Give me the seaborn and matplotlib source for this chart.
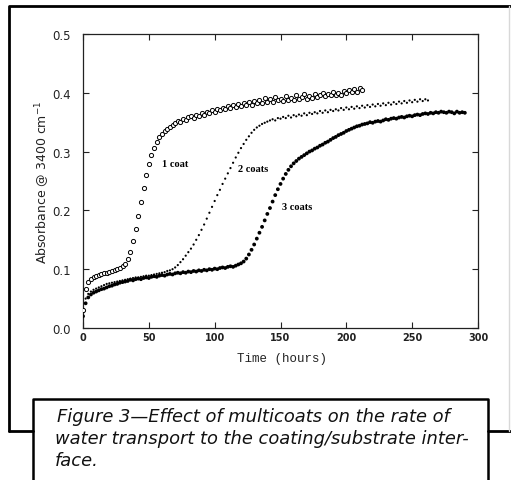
import numpy as np
import pandas as pd
import matplotlib
matplotlib.use("Agg")
import matplotlib.pyplot as plt
from matplotlib.lines import Line2D
import seaborn as sns

# ---------------- data ----------------
abs_1coat = [0.030, 0.066, 0.079, 0.084, 0.087, 0.089, 0.090, 0.092, 0.093, 0.094,
             0.096, 0.097, 0.098, 0.100, 0.102, 0.105, 0.109, 0.117, 0.130, 0.148,
             0.168, 0.190, 0.214, 0.238, 0.260, 0.279, 0.294, 0.306, 0.316, 0.324,
             0.330, 0.335, 0.339, 0.342, 0.346, 0.348, 0.352, 0.351, 0.356, 0.354,
             0.358, 0.361, 0.357, 0.363, 0.360, 0.366, 0.363, 0.368, 0.365, 0.371,
             0.368, 0.373, 0.370, 0.375, 0.372, 0.377, 0.374, 0.379, 0.376, 0.381,
             0.377, 0.383, 0.379, 0.384, 0.380, 0.386, 0.382, 0.388, 0.383, 0.391,
             0.385, 0.389, 0.384, 0.393, 0.387, 0.390, 0.386, 0.395, 0.388, 0.392,
             0.387, 0.396, 0.389, 0.393, 0.398, 0.390, 0.394, 0.391, 0.398, 0.393,
             0.396, 0.400, 0.394, 0.398, 0.396, 0.401, 0.397, 0.399, 0.396, 0.403,
             0.399, 0.405, 0.401, 0.406, 0.402, 0.408, 0.404]

abs_2coats = [0.030, 0.050, 0.058, 0.062, 0.065, 0.067, 0.069, 0.071, 0.073, 0.075,
              0.076, 0.077, 0.078, 0.079, 0.080, 0.081, 0.082, 0.083, 0.084, 0.085,
              0.086, 0.086, 0.087, 0.088, 0.089, 0.089, 0.090, 0.091, 0.092, 0.093,
              0.094, 0.095, 0.097, 0.098, 0.100, 0.103, 0.107, 0.112, 0.117, 0.123,
              0.129, 0.135, 0.142, 0.150, 0.158, 0.167, 0.176, 0.186, 0.196, 0.206,
              0.216, 0.226, 0.235, 0.245, 0.254, 0.263, 0.272, 0.281, 0.290, 0.298,
              0.306, 0.313, 0.320, 0.326, 0.332, 0.337, 0.341, 0.344, 0.347, 0.349,
              0.351, 0.353, 0.355, 0.353, 0.357, 0.356, 0.359, 0.357, 0.361, 0.358,
              0.362, 0.360, 0.363, 0.361, 0.365, 0.362, 0.366, 0.364, 0.367, 0.365,
              0.369, 0.366, 0.370, 0.367, 0.371, 0.369, 0.372, 0.370, 0.374, 0.371,
              0.375, 0.372, 0.376, 0.373, 0.377, 0.374, 0.378, 0.375, 0.379, 0.376,
              0.380, 0.377, 0.381, 0.378, 0.382, 0.379, 0.383, 0.380, 0.384, 0.381,
              0.385, 0.382, 0.386, 0.383, 0.387, 0.384, 0.388, 0.385, 0.389, 0.386,
              0.389, 0.387]

abs_3coats = [0.020, 0.042, 0.052, 0.057, 0.060, 0.062, 0.064, 0.066, 0.067, 0.069,
              0.071, 0.072, 0.074, 0.075, 0.077, 0.078, 0.079, 0.080, 0.082, 0.081,
              0.083, 0.084, 0.083, 0.085, 0.086, 0.085, 0.087, 0.088, 0.087, 0.089,
              0.090, 0.089, 0.091, 0.092, 0.091, 0.093, 0.094, 0.093, 0.095, 0.094,
              0.096, 0.095, 0.097, 0.096, 0.098, 0.097, 0.099, 0.098, 0.100, 0.099,
              0.101, 0.100, 0.102, 0.103, 0.102, 0.104, 0.105, 0.104, 0.106, 0.108,
              0.110, 0.113, 0.118, 0.125, 0.133, 0.142, 0.152, 0.162, 0.172, 0.183,
              0.194, 0.204, 0.215, 0.226, 0.236, 0.245, 0.254, 0.262, 0.269, 0.275,
              0.280, 0.284, 0.288, 0.291, 0.294, 0.297, 0.300, 0.302, 0.305, 0.307,
              0.310, 0.312, 0.315, 0.317, 0.320, 0.323, 0.325, 0.328, 0.330, 0.332,
              0.335, 0.337, 0.339, 0.341, 0.343, 0.344, 0.346, 0.347, 0.348, 0.350,
              0.349, 0.351, 0.352, 0.351, 0.353, 0.355, 0.354, 0.356, 0.357, 0.356,
              0.358, 0.359, 0.358, 0.360, 0.361, 0.360, 0.362, 0.363, 0.362, 0.364,
              0.365, 0.364, 0.366, 0.365, 0.367, 0.366, 0.368, 0.367, 0.366, 0.368,
              0.367, 0.365, 0.368, 0.366, 0.367, 0.366]

sample_step_h = 2.0
series_labels = ["1 coat", "2 coats", "3 coats"]
x_ticks = [0, 50, 100, 150, 200, 250, 300]
y_ticks = [0.0, 0.1, 0.2, 0.3, 0.4, 0.5]
x_label = "Time (hours)"
y_label = r"Absorbance @ 3400 cm$^{-1}$"
caption_lines = ["Figure 3\u2014Effect of multicoats on the rate of",
                 "water transport to the coating/substrate inter-",
                 "face."]

frames = []
for lab, vals in zip(series_labels, [abs_1coat, abs_2coats, abs_3coats]):
    t = sample_step_h * np.arange(len(vals))
    frames.append(pd.DataFrame({"time": t, "absorbance": vals, "series": lab}))
df = pd.concat(frames, ignore_index=True)

# ---------------- figure ----------------
sns.set_style("ticks")
plt.rcParams["font.family"] = ["DejaVu Sans"]

W, H = 511, 481
fig = plt.figure(figsize=(W / 100, H / 100), dpi=100)
fig.patch.set_facecolor("white")

def fx(px):
    return px / W

def fy(py):
    return 1 - py / H

ax_l, ax_r, ax_t, ax_b = 83, 478, 35, 329
ax = fig.add_axes([fx(ax_l), fy(ax_b), (ax_r - ax_l) / W, (ax_b - ax_t) / H])

styles = {
    "1 coat": dict(marker="o", s=9, facecolor="white", edgecolor="black", linewidth=0.7),
    "2 coats": dict(marker="o", s=2.5, color="black", edgecolor="none"),
    "3 coats": dict(marker="o", s=7.5, color="black", edgecolor="none"),
}
for lab in ["3 coats", "2 coats", "1 coat"]:
    sub = df[df["series"] == lab]
    sns.scatterplot(data=sub, x="time", y="absorbance", ax=ax, legend=False,
                    zorder=3, **styles[lab])

ax.set_xlim(0, 300)
ax.set_ylim(0, 0.5)
ax.set_xticks(x_ticks)
ax.set_yticks(y_ticks)
ax.set_xticklabels([str(v) for v in x_ticks], fontsize=7, fontweight="bold",
                   color="#222222")
ax.set_yticklabels([f"{v:.1f}" for v in y_ticks], fontsize=8.5, color="#222222")
ax.tick_params(direction="in", length=4, width=0.8, top=True, right=True,
               colors="#222222")
ax.tick_params(axis="y", pad=9)
ax.tick_params(axis="x", pad=3)
for sp in ax.spines.values():
    sp.set_visible(True)
    sp.set_linewidth(0.9)
    sp.set_color("#222222")

ax.set_xlabel("")
ax.set_ylabel(y_label, fontsize=9, color="#222222")
ax.yaxis.set_label_coords((52 - ax_l) / (ax_r - ax_l), 0.5)
fig.text(fx(282), fy(359), x_label, family="Liberation Mono", fontsize=9,
         color="#222222", ha="center", va="center")

ann = {"1 coat": (60, 0.279), "2 coats": (117.5, 0.271), "3 coats": (151, 0.206)}
for lab, (xx, yy) in ann.items():
    ax.text(xx, yy, lab, family="Liberation Serif", fontweight="bold",
            fontsize=7.5, ha="left", va="center", color="black")

# outer frame
lw_frame = 2.0
fig.add_artist(Line2D([fx(9), fx(9), fx(511)], [fy(432), fy(7), fy(7)],
                      color="black", lw=lw_frame, transform=fig.transFigure))
fig.add_artist(Line2D([fx(9), fx(33)], [fy(432), fy(432)], color="black",
                      lw=lw_frame, transform=fig.transFigure))
fig.add_artist(Line2D([fx(488), fx(511)], [fy(432), fy(432)], color="black",
                      lw=lw_frame, transform=fig.transFigure))
fig.add_artist(Line2D([fx(509), fx(509)], [fy(7), fy(432)], color="#d8d8d8",
                      lw=1.0, transform=fig.transFigure))
# caption box
fig.add_artist(Line2D([fx(33), fx(33), fx(488), fx(488)],
                      [fy(485), fy(400), fy(400), fy(485)], color="black",
                      lw=1.8, transform=fig.transFigure))

ys = [417, 439, 461]
x_starts = [57, 55, 55]
for txt, yy, x0 in zip(caption_lines, ys, x_starts):
    fig.text(fx(x0), fy(yy), txt, fontsize=12.9, style="italic",
             family="DejaVu Sans", ha="left", va="center", color="#111111")

fig.savefig("out.png", dpi=100, facecolor="white")
